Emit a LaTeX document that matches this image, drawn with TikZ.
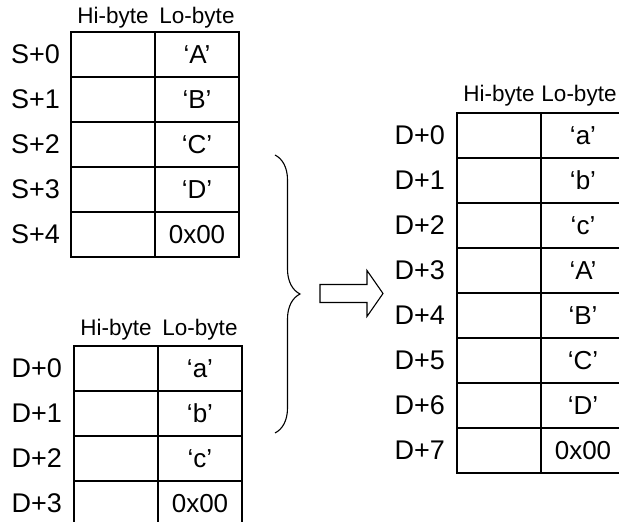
\documentclass[tikz,border=0pt]{standalone}
\usepackage{fontspec}
\setmainfont{Liberation Sans}
\usetikzlibrary{positioning,decorations.pathreplacing}

\begin{document}
\begin{tikzpicture}[x=1pt,y=1pt,
        cell/.style={draw,line width=1.5pt,outer sep=0pt,inner sep=0pt,
            minimum width=84pt,minimum height=45pt,font=\fontsize{26}{30}\selectfont},
        addr/.style={inner sep=0pt,font=\fontsize{27}{32}\selectfont},
        head/.style={inner sep=0pt,font=\fontsize{22.5}{26}\selectfont}]
                \useasboundingbox (0,0) rectangle (619,522);
                % source S
                \foreach \i/\v in {0/‘A’,1/‘B’,2/‘C’,3/‘D’,4/0x00} {
                    \node[cell] (shi\i) at (113,{467.5-45*\i}) {};
                    \node[cell,right=0pt of shi\i] (slo\i) {\v};
                    \node[addr,left=11pt of shi\i] (sadr\i) {S+\i};
                }
                \node[head,above=4pt of shi0] (shead) {Hi-byte};
                \node[head,above=4pt of slo0] (slead) {Lo-byte};
                % destination D before
                \foreach \i/\v in {0/‘a’,1/‘b’,2/‘c’,3/0x00} {
                    \node[cell] (dhi\i) at (116,{153.5-45*\i}) {};
                    \node[cell,right=0pt of dhi\i] (dlo\i) {\v};
                    \node[addr,left=12pt of dhi\i] (dadr\i) {D+\i};
                }
                \node[head,above=6pt of dhi0] (dhead) {Hi-byte};
                \node[head,above=6pt of dlo0] (dlead) {Lo-byte};
                % destination D after
                \foreach \i/\v in {0/‘a’,1/‘b’,2/‘c’,3/‘A’,4/‘B’,5/‘C’,6/‘D’,7/0x00} {
                    \node[cell] (rhi\i) at (499,{386.5-45*\i}) {};
                    \node[cell,right=0pt of rhi\i] (rlo\i) {\v};
                    \node[addr,left=12pt of rhi\i] (radr\i) {D+\i};
                }
                \node[head,above=7pt of rhi0] (rhead) {Hi-byte};
                \node[head,above=7pt of rlo0,xshift=-4pt] (rlead) {Lo-byte};
                % brace and arrow
                \coordinate (btop) at (275,367);
                \coordinate (bbot) at (275,89);
                \draw[line width=1.1pt,decorate,decoration={brace,amplitude=25pt}] (btop) -- (bbot);
                \draw[line width=1.1pt] (320,237.5) -- (367,237.5) -- (367,251.5) -- (383,228.5)
                    -- (367,205.5) -- (367,219.5) -- (320,219.5) -- cycle;
\end{tikzpicture}
\end{document}
